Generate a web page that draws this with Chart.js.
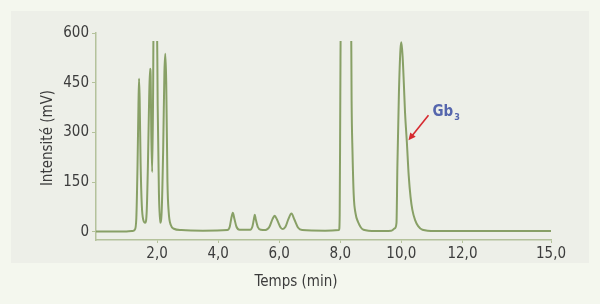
<!DOCTYPE html>
<html>
<head>
<meta charset="utf-8">
<script src="https://cdn.jsdelivr.net/npm/chart.js@4/dist/chart.umd.min.js"></script>
<style>
html,body{margin:0;padding:0;background:#f4f7ee;}
#wrap{width:600px;height:304px;position:relative;}
</style>
</head>
<body>
<div id="wrap"><canvas id="chrom" width="600" height="304"></canvas></div>
<script>
// chromatogramme : temps (min) / intensité (mV)
// (les sommets saturés dépassent le cadre et sont coupés)
var temps = [0,1.0,1.2,1.27,1.32,1.36,1.39,1.41,1.43,1.46,1.50,1.55,1.61,1.66,1.70,1.74,1.77,1.79,1.81,1.84,1.87,1.89,1.92,1.96,1.99,2.02,2.06,2.10,2.15,2.20,2.24,2.27,2.30,2.34,2.38,2.45,2.55,2.8,3.5,4.3,4.38,4.43,4.48,4.53,4.6,4.7,5.05,5.12,5.17,5.2,5.23,5.3,5.4,5.55,5.68,5.78,5.85,5.93,6.05,6.12,6.2,6.3,6.4,6.5,6.62,6.75,7.5,7.96,7.98,8.0,8.02,8.35,8.37,8.4,8.44,8.5,8.58,8.76,9.15,9.67,9.78,9.84,9.87,9.92,9.97,10.0,10.04,10.08,10.12,10.18,10.24,10.3,10.36,10.45,10.55,10.69,11.1,12.5,14.9];
var intensite = [1,1,2,6,40,200,380,462,400,210,80,35,27,60,200,400,492,470,300,180,420,700,700,700,700,380,120,27,60,250,480,537,450,150,60,20,9,5,3,5,15,40,57,40,15,6,6,15,38,51,38,14,6,5,15,38,48,36,12,8,14,38,55,36,12,5,3,5,50,400,700,700,396,240,110,55,30,6,2,3,10,27,200,420,550,572,530,450,360,270,170,105,66,35,17,6,2,2,2];
var xTicks = [2,4,6,8,10,12,14.9];
var xLabels = ['2,0','4,0','6,0','8,0','10,0','12,0','15,0'];
var yTicks = [0,150,300,450,600];
var yLabels = ['0','150','300','450','600'];

var points = temps.map(function(t,i){return {x:t,y:intensite[i]};});
var police = "'DejaVu Sans Condensed','DejaVu Sans',sans-serif";
var axe = '#b4c29b';

var decor = {
  id:'decor',
  beforeDraw:function(c){
    var ctx=c.ctx;
    ctx.save();
    ctx.fillStyle='#f4f7ee';ctx.fillRect(0,0,600,304);
    ctx.fillStyle='#edefe8';ctx.fillRect(11,11,578,252);
    ctx.restore();
  },
  afterDraw:function(c){
    var ctx=c.ctx, xs=c.scales.x, ys=c.scales.y;
    ctx.save();
    ctx.fillStyle='#3c3c3c';
    ctx.font='15px '+police;
    ctx.textAlign='center';ctx.textBaseline='middle';
    ctx.fillText('Temps (min)',296,282);
    ctx.translate(48,138);ctx.rotate(-Math.PI/2);
    ctx.fillText('Intensité (mV)',0,0);
    ctx.restore();
    // annotation Gb3
    var tipX=xs.getPixelForValue(10.2)+1, tipY=ys.getPixelForValue(276);
    var fromX=tipX+20, fromY=tipY-25;
    ctx.save();
    ctx.strokeStyle='#d62a2f';ctx.fillStyle='#d62a2f';ctx.lineWidth=1.6;
    ctx.beginPath();ctx.moveTo(fromX,fromY);ctx.lineTo(tipX+4,tipY-5);ctx.stroke();
    var a=Math.atan2(tipY-fromY,tipX-fromX);
    ctx.beginPath();ctx.moveTo(tipX,tipY);
    ctx.lineTo(tipX-8*Math.cos(a-0.45),tipY-8*Math.sin(a-0.45));
    ctx.lineTo(tipX-8*Math.cos(a+0.45),tipY-8*Math.sin(a+0.45));
    ctx.closePath();ctx.fill();
    ctx.fillStyle='#5566ad';
    ctx.font='bold 15px '+police;ctx.textBaseline='alphabetic';ctx.textAlign='left';
    ctx.fillText('Gb',fromX+4,fromY+1);
    var w=ctx.measureText('Gb').width;
    ctx.font='bold 9px '+police;
    ctx.fillText('3',fromX+5+w,fromY+5);
    ctx.restore();
  }
};

new Chart(document.getElementById('chrom'),{
  type:'line',
  data:{datasets:[{
    data:points,
    borderColor:'#88a066',
    borderWidth:2,
    pointRadius:0,
    cubicInterpolationMode:'monotone',
    clip:{left:2,top:-8,right:2,bottom:2}
  }]},
  options:{
    responsive:false,animation:false,
    layout:{padding:{left:0,right:49,top:33,bottom:0}},
    plugins:{legend:{display:false},tooltip:{enabled:false}},
    scales:{
      x:{type:'linear',min:0,max:14.9,
        afterBuildTicks:function(s){s.ticks=xTicks.map(function(v){return {value:v};});},
        afterFit:function(s){s.height=64;},
        ticks:{padding:2,color:'#3c3c3c',font:{family:police,size:15},maxRotation:0,
          callback:function(v){var i=xTicks.indexOf(v);return i<0?'':xLabels[i];}},
        grid:{display:true,drawOnChartArea:false,drawTicks:true,tickLength:3,color:axe},
        border:{display:true,color:axe,width:1.5}
      },
      y:{min:-25,max:600,
        afterBuildTicks:function(s){s.ticks=yTicks.map(function(v){return {value:v};});},
        afterFit:function(s){s.width=96;},
        ticks:{padding:3,color:'#3c3c3c',font:{family:police,size:15},
          callback:function(v){var i=yTicks.indexOf(v);return i<0?'':yLabels[i];}},
        grid:{display:true,drawOnChartArea:false,drawTicks:true,tickLength:4,color:axe},
        border:{display:true,color:axe,width:1.5}
      }
    }
  },
  plugins:[decor]
});
</script>
</body>
</html>
